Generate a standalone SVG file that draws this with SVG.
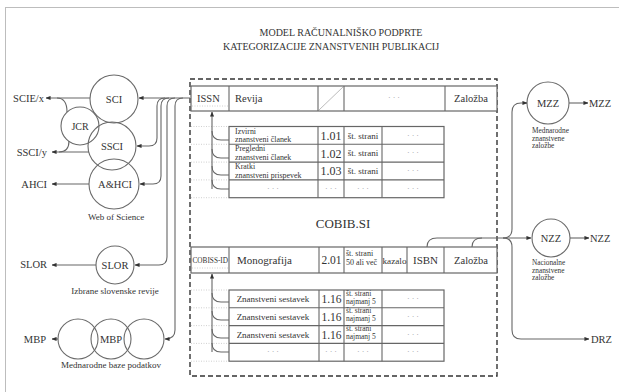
<svg xmlns="http://www.w3.org/2000/svg" width="619" height="392" viewBox="0 0 619 392">
<style>
text{font-family:"Liberation Serif","Times New Roman",serif;fill:#333}
.c{text-anchor:middle}
.e{text-anchor:end}
.circ{fill:none;stroke:#6a6a6a;stroke-width:1.1}
.ln{fill:none;stroke:#666;stroke-width:1.1}
.cell{fill:#fff;stroke:#666;stroke-width:1.2}
.dot{fill:none;stroke:#c4c4c4;stroke-width:0.8;stroke-dasharray:1 1.5}
.dots{fill:#999;font-size:8px;text-anchor:middle}
.f10{font-size:10.5px}
.f9{font-size:9px}
.f8{font-size:7.9px}
.f7{font-size:7.3px}
.cap{font-size:9px;text-anchor:middle}
</style>
<defs>
<marker id="ar" viewBox="0 0 6 6" refX="5.5" refY="3" markerWidth="5" markerHeight="5" orient="auto" markerUnits="userSpaceOnUse">
<path d="M0,0.5 L6,3 L0,5.5 z" fill="#333"/>
</marker>
</defs>
<rect x="0" y="0" width="619" height="392" fill="#fff"/>
<rect x="5.5" y="7.5" width="620" height="400" fill="none" stroke="#bdbdbd" stroke-width="1"/>

<g id="title">
<text class="c" x="341" y="36" font-size="10">MODEL RAČUNALNIŠKO PODPRTE</text>
<text class="c" x="331" y="50" font-size="10">KATEGORIZACIJE ZNANSTVENIH PUBLIKACIJ</text>
</g>

<g id="cobib">
<rect x="190" y="79" width="307" height="297" fill="none" stroke="#333" stroke-width="1.4" stroke-dasharray="5 3"/>
<text class="c" x="343" y="228" font-size="13">COBIB.SI</text>
</g>

<g id="revija-row">
<rect class="cell" x="191" y="86" width="306" height="25"/>
<line class="ln" x1="229" y1="86" x2="229" y2="111"/>
<line class="ln" x1="318" y1="86" x2="318" y2="111"/>
<line class="ln" x1="344" y1="86" x2="344" y2="111"/>
<line class="ln" x1="445" y1="86" x2="445" y2="111"/>
<line x1="319" y1="110" x2="343" y2="87" stroke="#aaa" stroke-width="0.8"/>
<line class="dot" x1="192" y1="106" x2="228" y2="106"/>
<text class="f10" x="197" y="102">ISSN</text>
<text class="f10" x="235" y="102">Revija</text>
<text class="dots" x="394" y="100">· · ·</text>
<text class="f10" x="471" y="102" text-anchor="middle">Založba</text>
</g>

<g id="clanki">
<rect class="cell" x="229" y="126.5" width="215" height="71.2"/>
<line class="ln" x1="229" y1="144.3" x2="444" y2="144.3"/>
<line class="ln" x1="229" y1="162.1" x2="444" y2="162.1"/>
<line class="ln" x1="229" y1="179.9" x2="444" y2="179.9"/>
<line class="ln" x1="318" y1="126.5" x2="318" y2="197.7"/>
<line class="ln" x1="344" y1="126.5" x2="344" y2="197.7"/>
<line class="ln" x1="382" y1="126.5" x2="382" y2="197.7"/>
<line class="dot" x1="191" y1="126.5" x2="228" y2="126.5"/>
<line class="dot" x1="191" y1="144.3" x2="228" y2="144.3"/>
<line class="dot" x1="191" y1="162.1" x2="228" y2="162.1"/>
<line class="dot" x1="191" y1="179.9" x2="228" y2="179.9"/>
<line class="dot" x1="191" y1="197.7" x2="228" y2="197.7"/>
<text class="f8" x="235" y="133.6">Izvirni</text>
<text class="f8" x="235" y="142">znanstveni članek</text>
<text class="f8" x="235" y="151.4">Pregledni</text>
<text class="f8" x="235" y="159.8">znanstveni članek</text>
<text class="f8" x="235" y="169.2">Kratki</text>
<text class="f8" x="235" y="177.6">znanstveni prispevek</text>
<text class="c" x="331" y="139.7" font-size="12">1.01</text>
<text class="c" x="331" y="157.5" font-size="12">1.02</text>
<text class="c" x="331" y="175.3" font-size="12">1.03</text>
<text class="c f9" x="363" y="138.5">št. strani</text>
<text class="c f9" x="363" y="156.3">št. strani</text>
<text class="c f9" x="363" y="174.1">št. strani</text>
<text class="dots" x="413" y="137.5">· · ·</text>
<text class="dots" x="413" y="155.3">· · ·</text>
<text class="dots" x="413" y="173.1">· · ·</text>
<text class="dots" x="273" y="190.9">· · ·</text>
<text class="dots" x="331" y="190.9">· · ·</text>
<text class="dots" x="363" y="190.9">· · ·</text>
<text class="dots" x="413" y="190.9">· · ·</text>
</g>

<g id="monografija-row">
<rect class="cell" x="191" y="247" width="306" height="26"/>
<line class="ln" x1="229" y1="247" x2="229" y2="273"/>
<line class="ln" x1="319" y1="247" x2="319" y2="273"/>
<line class="ln" x1="344" y1="247" x2="344" y2="273"/>
<line class="ln" x1="382" y1="247" x2="382" y2="273"/>
<line class="ln" x1="407" y1="247" x2="407" y2="273"/>
<line class="ln" x1="444" y1="247" x2="444" y2="273"/>
<line class="dot" x1="192" y1="268" x2="228" y2="268"/>
<text class="f7" x="192.5" y="263" textLength="35.5" lengthAdjust="spacingAndGlyphs">COBISS-ID</text>
<text x="237" y="264" font-size="11">Monografija</text>
<text class="c" x="331.5" y="264" font-size="11.5">2.01</text>
<text x="346" y="256" font-size="8">št. strani</text>
<text x="346" y="264.5" font-size="8">50 ali več</text>
<text class="c" x="394.5" y="263.5" font-size="9.2">kazalo</text>
<text class="c" x="425.5" y="264" font-size="11">ISBN</text>
<text class="c f10" x="471" y="264">Založba</text>
</g>

<g id="sestavki">
<rect class="cell" x="229" y="290" width="215" height="71.2"/>
<line class="ln" x1="229" y1="307.8" x2="444" y2="307.8"/>
<line class="ln" x1="229" y1="325.6" x2="444" y2="325.6"/>
<line class="ln" x1="229" y1="343.4" x2="444" y2="343.4"/>
<line class="ln" x1="319" y1="290" x2="319" y2="361.2"/>
<line class="ln" x1="344" y1="290" x2="344" y2="361.2"/>
<line class="ln" x1="382" y1="290" x2="382" y2="361.2"/>
<line class="dot" x1="191" y1="290" x2="228" y2="290"/>
<line class="dot" x1="191" y1="307.8" x2="228" y2="307.8"/>
<line class="dot" x1="191" y1="325.6" x2="228" y2="325.6"/>
<line class="dot" x1="191" y1="343.4" x2="228" y2="343.4"/>
<line class="dot" x1="191" y1="361.2" x2="228" y2="361.2"/>
<text class="c f9" x="273" y="302">Znanstveni sestavek</text>
<text class="c f9" x="273" y="319.8">Znanstveni sestavek</text>
<text class="c f9" x="273" y="337.6">Znanstveni sestavek</text>
<text class="c" x="331.5" y="303" font-size="11.5">1.16</text>
<text class="c" x="331.5" y="320.8" font-size="11.5">1.16</text>
<text class="c" x="331.5" y="338.6" font-size="11.5">1.16</text>
<text x="346" y="295.5" font-size="7.5">št. strani</text>
<text x="346" y="303.5" font-size="7.5">najmanj 5</text>
<text x="346" y="313.3" font-size="7.5">št. strani</text>
<text x="346" y="321.3" font-size="7.5">najmanj 5</text>
<text x="346" y="331.1" font-size="7.5">št. strani</text>
<text x="346" y="339.1" font-size="7.5">najmanj 5</text>
<text class="dots" x="413" y="301">· · ·</text>
<text class="dots" x="413" y="318.8">· · ·</text>
<text class="dots" x="413" y="336.6">· · ·</text>
<text class="dots" x="273" y="354.4">· · ·</text>
<text class="dots" x="331" y="354.4">· · ·</text>
<text class="dots" x="363" y="354.4">· · ·</text>
<text class="dots" x="413" y="354.4">· · ·</text>
</g>

<g id="wos">
<circle class="circ" cx="114" cy="99" r="24"/>
<circle class="circ" cx="80" cy="126" r="19"/>
<circle class="circ" cx="112" cy="146" r="24"/>
<circle class="circ" cx="114" cy="184" r="25"/>
<text class="c f10" x="114" y="103">SCI</text>
<text class="c" x="80" y="130" font-size="10">JCR</text>
<text class="c f10" x="112" y="150">SSCI</text>
<text class="c f10" x="115" y="188">A&amp;HCI</text>
<text class="cap" x="116" y="220">Web of Science</text>
</g>

<g id="slor">
<circle class="circ" cx="115" cy="265" r="19"/>
<text class="c f10" x="115" y="269">SLOR</text>
<text class="cap" x="115" y="294">Izbrane slovenske revije</text>
</g>

<g id="mbp">
<circle class="circ" cx="78" cy="339" r="20"/>
<circle class="circ" cx="111" cy="339" r="20"/>
<circle class="circ" cx="144" cy="339" r="20"/>
<text class="c f10" x="111" y="343">MBP</text>
<text class="cap" x="111" y="368">Mednarodne baze podatkov</text>
</g>

<g id="mzz">
<circle class="circ" cx="548" cy="103" r="21"/>
<text class="c f10" x="548" y="107">MZZ</text>
<text x="532" y="133" font-size="7.3">Mednarodne</text>
<text x="532" y="140.5" font-size="7.3">znanstvene</text>
<text x="532" y="148" font-size="7.3">založbe</text>
</g>

<g id="nzz">
<circle class="circ" cx="551" cy="238" r="19"/>
<text class="c f10" x="551" y="242">NZZ</text>
<text x="532" y="265" font-size="7.3">Nacionalne</text>
<text x="532" y="272.5" font-size="7.3">znanstvene</text>
<text x="532" y="280" font-size="7.3">založbe</text>
</g>

<g id="outputs">
<text class="e f10" x="44" y="102">SCIE/x</text>
<text class="e f10" x="47" y="155.5">SSCI/y</text>
<text class="e f10" x="47" y="188">AHCI</text>
<text class="e f10" x="47" y="268">SLOR</text>
<text class="e f10" x="46" y="343">MBP</text>
<text class="f10" x="589" y="107">MZZ</text>
<text class="f10" x="590" y="242">NZZ</text>
<text class="f10" x="591" y="343">DRZ</text>
</g>

<g id="connectors">
<path class="ln" d="M190,98 L139,98" marker-end="url(#ar)"/>
<path class="ln" d="M90,98 L46,98" marker-end="url(#ar)"/>
<path class="ln" d="M57,98 Q67,98 67,112"/>
<path class="ln" d="M89,152 L52,152" marker-end="url(#ar)"/>
<path class="ln" d="M59,152 Q69,152 69,141"/>
<path class="ln" d="M89,184 L52,184" marker-end="url(#ar)"/>
<path class="ln" d="M96,265 L52,265" marker-end="url(#ar)"/>
<path class="ln" d="M58,339 L52,339" marker-end="url(#ar)"/>
<path class="ln" d="M165,98 Q157,98 157,106 L157,138 Q157,146 149,146 L137,146" marker-end="url(#ar)"/>
<path class="ln" d="M169,98 Q161,98 161,106 L161,176 Q161,184 153,184 L140,184" marker-end="url(#ar)"/>
<path class="ln" d="M175,98 Q167,98 167,106 L167,257 Q167,265 159,265 L135,265" marker-end="url(#ar)"/>
<path class="ln" d="M183,98 Q175,98 175,106 L175,330 Q175,339 165,339" marker-end="url(#ar)"/>
<path class="ln" d="M212,189 L212,112" marker-end="url(#ar)"/>
<path class="ln" d="M212,131 Q212,140 221,140 L229,140"/>
<path class="ln" d="M212,149 Q212,158 221,158 L229,158"/>
<path class="ln" d="M212,166 Q212,175 221,175 L229,175"/>
<path class="ln" d="M212,180 Q212,189 221,189 L229,189"/>
<path class="ln" d="M212,352 L212,274" marker-end="url(#ar)"/>
<path class="ln" d="M212,293 Q212,302 221,302 L229,302"/>
<path class="ln" d="M212,311 Q212,320 221,320 L229,320"/>
<path class="ln" d="M212,329 Q212,338 221,338 L229,338"/>
<path class="ln" d="M212,343 Q212,352 221,352 L229,352"/>
<path class="ln" d="M427,247 Q427,238 437,238 L531,238" marker-end="url(#ar)"/>
<path class="ln" d="M472,247 Q472,238 482,238"/>
<path class="ln" d="M503,238 Q512,238 512,229 L512,112 Q512,103 521,103 L527,103" marker-end="url(#ar)"/>
<path class="ln" d="M503,238 Q512,238 512,247 L512,330 Q512,339 521,339 L589,339" marker-end="url(#ar)"/>
<path class="ln" d="M569,103 L588,103" marker-end="url(#ar)"/>
<path class="ln" d="M570,238 L589,238" marker-end="url(#ar)"/>
</g>
</svg>
